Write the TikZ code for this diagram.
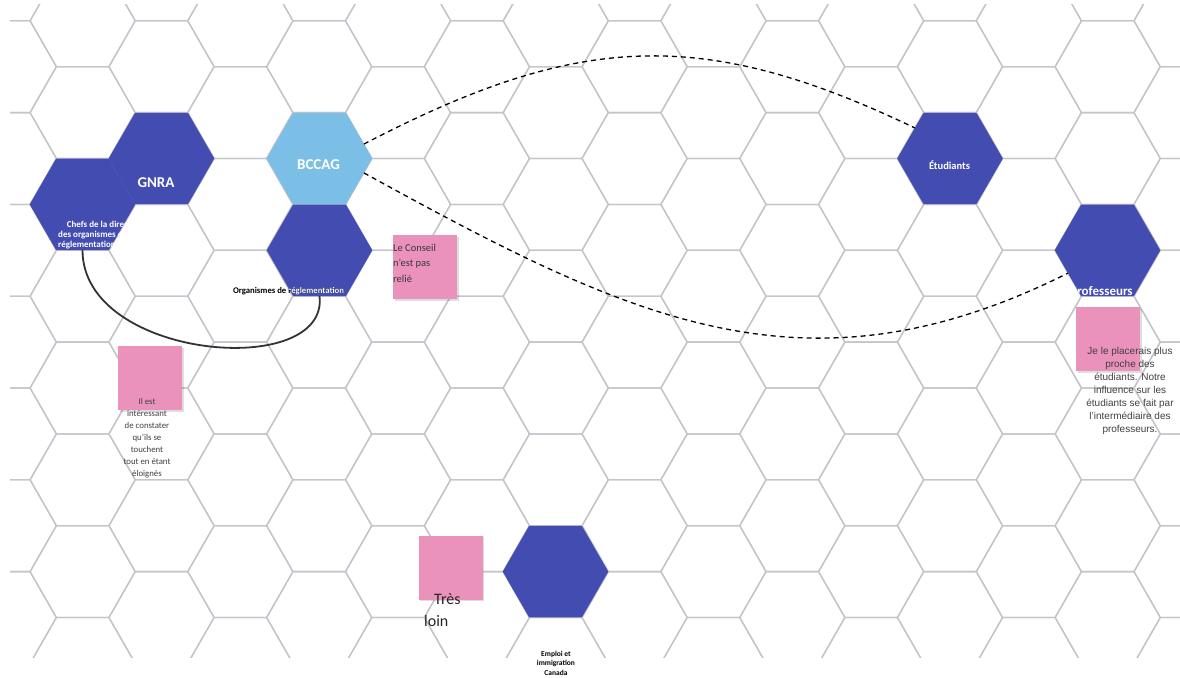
\documentclass[tikz,border=0pt]{standalone}
\usepackage{fontspec}
\setmainfont{Carlito}
\newfontfamily\arialf{Liberation Sans}
\usetikzlibrary{shapes.geometric,shadows}
\definecolor{hexblue}{HTML}{434DB1}
\definecolor{hexlight}{HTML}{7CBFE6}
\definecolor{notepink}{HTML}{EA92BB}
\definecolor{gridgrey}{HTML}{C4C4CB}
\definecolor{notetext}{HTML}{383838}
\tikzset{
  gridline/.style={draw=gridgrey, line width=1.3pt, line join=round},
  hexnode/.style={regular polygon, regular polygon sides=6, minimum size=105.6pt, inner sep=0pt, outer sep=0pt, draw=none},
  darkhex/.style={hexnode, fill=hexblue},
  lighthex/.style={hexnode, fill=hexlight},
  hexlabel/.style={text=white, inner sep=0pt, anchor=base},
  stickynote/.style={fill=notepink, draw=none, minimum width=64pt, minimum height=64pt, inner sep=0pt, outer sep=0pt,
    drop shadow={shadow xshift=1.5pt, shadow yshift=-1.8pt, fill=black, opacity=0.13}},
  notetxt/.style={text=notetext, inner sep=0pt},
  dashlink/.style={dash pattern=on 5pt off 4pt, line width=1.3pt, draw=black},
  arcline/.style={line width=1.8pt, draw=black!80},
}
\begin{document}
\begin{tikzpicture}[x=1pt,y=-1pt]
\useasboundingbox (0,0) rectangle (1180,677);
\fill[white] (0,0) rectangle (1180,677);
% honeycomb background
\begin{scope}
\clip (10,5) rectangle (1180,657);
\foreach \k in {-2,...,13}{
  \foreach \n in {-3,...,6}{
    \pgfmathsetmacro{\cx}{161.5+78.85*\k}
    \pgfmathsetmacro{\cy}{158.5+91.8*\n+45.9*mod(abs(\k),2)}
    \draw[gridline] (\cx-52.6,\cy) -- (\cx-26.3,\cy-45.9) -- (\cx+26.3,\cy-45.9) -- (\cx+52.6,\cy) -- (\cx+26.3,\cy+45.9) -- (\cx-26.3,\cy+45.9) -- cycle;
  }
}
\end{scope}
% hexagons
\node[darkhex] (chefs) at (82.5,204.4) {};
\begin{scope}
\clip (chefs.corner 1) -- (chefs.corner 2) -- (chefs.corner 3) -- (chefs.corner 4) -- (chefs.corner 5) -- (chefs.corner 6) -- cycle;
\node[hexlabel, anchor=base west, font=\fontsize{9}{11}\selectfont\bfseries] (chefs1) at (66.7,227) {Chefs de la direction};
\node[hexlabel, anchor=base west, font=\fontsize{9}{11}\selectfont\bfseries] (chefs2) at (58,237.2) {des organismes de};
\node[hexlabel, anchor=base west, font=\fontsize{9}{11}\selectfont\bfseries] (chefs3) at (58,247.4) {réglementation};
\end{scope}
\node[darkhex] (gnra) at (161.5,158.5) {};
\node[hexlabel, font=\fontsize{15}{18}\selectfont\bfseries] (gnralbl) at (156,187.5) {GNRA};
\node[lighthex] (bccag) at (319.5,158.5) {};
\node[hexlabel, font=\fontsize{15}{18}\selectfont\bfseries] (bccaglbl) at (318.5,169) {BCCAG};
\node[darkhex] (org) at (319.5,250.3) {};
\node[notetxt, anchor=base, text=black, font=\fontsize{8.7}{10}\selectfont\bfseries] (orglbl) at (288.5,293.5) {Organismes de réglementation};
\begin{scope}
\clip (org.corner 1) -- (org.corner 2) -- (org.corner 3) -- (org.corner 4) -- (org.corner 5) -- (org.corner 6) -- cycle;
\node[hexlabel, font=\fontsize{8.7}{10}\selectfont\bfseries] (orglblw) at (288.5,293.5) {Organismes de réglementation};
\end{scope}
\node[darkhex] (etud) at (950,158.5) {};
\node[hexlabel, font=\fontsize{10.5}{12}\selectfont\bfseries] (etudlbl) at (949.5,169.5) {Étudiants};
\node[darkhex] (prof) at (1107.5,250.3) {};
\begin{scope}
\clip (prof.corner 1) -- (prof.corner 2) -- (prof.corner 3) -- (prof.corner 4) -- (prof.corner 5) -- (prof.corner 6) -- cycle;
\node[hexlabel, font=\fontsize{13}{15}\selectfont\bfseries] (proflbl) at (1101.5,295) {Professeurs};
\end{scope}
\node[darkhex] (eic) at (555.5,571.6) {};
\node[notetxt, text=black, anchor=base, font=\fontsize{7.5}{9}\selectfont\bfseries] (eic1) at (556,656) {Emploi et};
\node[notetxt, text=black, anchor=base, font=\fontsize{7.5}{9}\selectfont\bfseries] (eic2) at (556,665.5) {immigration};
\node[notetxt, text=black, anchor=base, font=\fontsize{7.5}{9}\selectfont\bfseries] (eic3) at (556,675) {Canada};
% connectors
\draw[arcline] (chefs.south) .. controls +(0,110) and +(10,84) .. (org.south);
\draw[dashlink] (bccag.18) .. controls +(213,-111) and +(-213,-102) .. (etud.139);
\draw[dashlink] (bccag.-18) .. controls +(264,145) and +(-264,132) .. (prof.210);
% sticky notes
\node[stickynote] (note1) at (425,267) {};
\node[notetxt, anchor=base west, font=\fontsize{10.5}{12}\selectfont] (n1a) at (393,251.5) {Le Conseil};
\node[notetxt, anchor=base west, font=\fontsize{10.5}{12}\selectfont] (n1b) at (393,266.7) {n’est pas};
\node[notetxt, anchor=base west, font=\fontsize{10.5}{12}\selectfont] (n1c) at (393,282) {relié};
\node[stickynote] (note2) at (150,378) {};
\foreach \t [count=\i from 0] in {Il est,intéressant,de constater,qu’ils se,touchent,tout en étant,éloignés}{
  \node[notetxt, text=black!75, anchor=base, font=\fontsize{8.8}{10}\selectfont] (n2l\i) at (147,404+12*\i) {\t};
}
\node[stickynote] (note3) at (450.5,567.5) {};
\node[notetxt, text=black!85, anchor=base west, font=\fontsize{16}{19}\selectfont] (n3a) at (434,604) {Très};
\node[notetxt, text=black!85, anchor=base west, font=\fontsize{16}{19}\selectfont] (n3b) at (424,626.5) {loin};
\node[stickynote] (note4) at (1108,339) {};
\foreach \t [count=\i from 0] in {Je le placerais plus,proche des,étudiants. Notre,influence sur les,étudiants se fait par,l’intermédiaire des,professeurs.}{
  \node[notetxt, text=black!75, anchor=base, font=\arialf\fontsize{10}{12}\selectfont] (n4l\i) at (1130,354+13.1*\i) {\t};
}
\end{tikzpicture}
\end{document}
